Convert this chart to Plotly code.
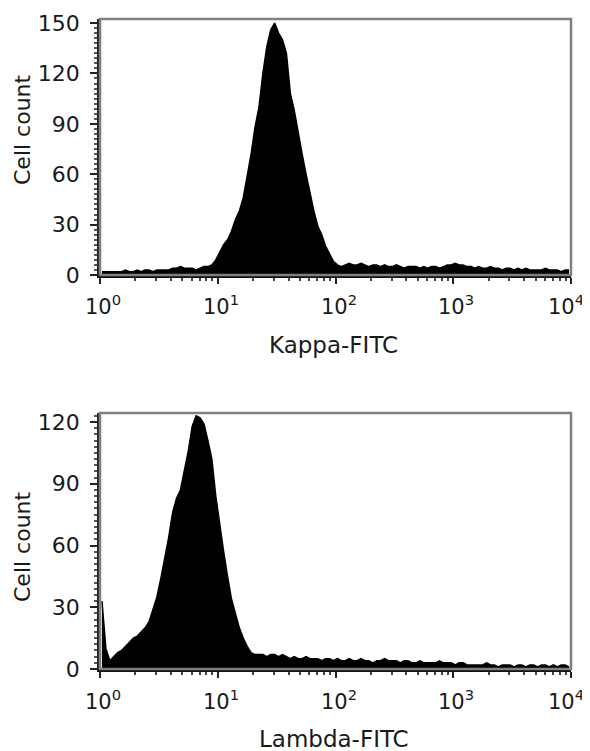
import numpy as np
import plotly.graph_objects as go

# 30 channels per decade over 4 decades (log10 bin edges 0..4)
n_bins = 120
log_edges = np.linspace(0, 4, n_bins + 1)
channel_centers = 10 ** ((log_edges[:-1] + log_edges[1:]) / 2)

kappa_counts = [
    2, 2, 2, 2, 2, 2, 3, 2, 2, 3,
    2, 3, 3, 2, 3, 3, 3, 3, 4, 4,
    5, 4, 4, 4, 3, 4, 5, 5, 6, 9,
    14, 18, 21, 26, 33, 38, 46, 58, 72, 88,
    100, 120, 136, 146, 150, 144, 140, 132, 108, 98,
    84, 72, 60, 48, 38, 29, 24, 17, 12, 8,
    6, 5, 6, 7, 6, 6, 7, 6, 5, 6,
    6, 5, 6, 5, 5, 6, 5, 4, 5, 5,
    5, 4, 5, 4, 5, 5, 4, 5, 6, 6,
    7, 6, 6, 5, 5, 4, 5, 4, 4, 5,
    4, 4, 3, 4, 4, 3, 4, 3, 4, 3,
    3, 3, 3, 4, 3, 3, 3, 2, 3, 3,
]

lambda_counts = [
    33, 10, 4, 6, 8, 9, 11, 13, 15, 16,
    18, 20, 23, 29, 35, 44, 54, 64, 76, 83,
    87, 96, 106, 118, 123, 122, 119, 111, 102, 84,
    70, 57, 45, 34, 27, 20, 15, 11, 8, 7,
    7, 7, 6, 7, 7, 6, 7, 6, 5, 6,
    5, 5, 6, 5, 5, 5, 4, 5, 5, 4,
    5, 4, 4, 5, 4, 4, 5, 4, 4, 3,
    4, 4, 5, 4, 4, 4, 3, 4, 4, 3,
    3, 4, 3, 3, 3, 3, 4, 3, 3, 3,
    2, 3, 3, 2, 2, 2, 2, 2, 3, 2,
    2, 1, 2, 2, 2, 1, 2, 2, 1, 2,
    2, 1, 2, 2, 1, 2, 1, 2, 2, 1,
]

x_tick_vals = [1, 10, 100, 1000, 10000]
x_tick_text = ["10<sup>0</sup>", "10<sup>1</sup>", "10<sup>2</sup>",
               "10<sup>3</sup>", "10<sup>4</sup>"]
kappa_y_ticks = [0, 30, 60, 90, 120, 150]
lambda_y_ticks = [0, 30, 60, 90, 120]

# the page body has an 8px margin, so the figure is drawn 8px in from the window edge
OFF = 8
W, H = 590, 751
FONT = "DejaVu Sans"
TXT = "#1a1a1a"
FS = 22
FS_X = 21
FS_T = 23

def fx(p):
    return (p - OFF) / W

def fy(p):
    return (H - (p - OFF)) / H

fig = go.Figure()
fig.add_trace(go.Scatter(
    x=channel_centers, y=kappa_counts, mode="lines",
    line=dict(color="black", width=1.5), fill="tozeroy", fillcolor="black",
    xaxis="x", yaxis="y", showlegend=False, hoverinfo="skip"))
fig.add_trace(go.Scatter(
    x=channel_centers, y=lambda_counts, mode="lines",
    line=dict(color="black", width=1.5), fill="tozeroy", fillcolor="black",
    xaxis="x2", yaxis="y2", showlegend=False, hoverinfo="skip"))

xcommon = dict(
    type="log", range=[0, 4], tickvals=x_tick_vals, showticklabels=False,
    ticks="outside", ticklen=6, tickwidth=2, tickcolor="#222", automargin=False,
    showline=True, linecolor="#111", linewidth=2.5, showgrid=False, zeroline=False,
    minor=dict(ticks="outside", ticklen=3, tickwidth=1.5, tickcolor="#444", dtick="D1", showgrid=False),
)
ycommon = dict(
    ticks="outside", ticklen=7, tickwidth=2, tickcolor="#222", automargin=False,
    showline=True, linecolor="#222", linewidth=2.5, showgrid=False, zeroline=False,
    tickfont=dict(family=FONT, size=FS, color=TXT),
    minor=dict(ticks="outside", ticklen=3, tickwidth=1.5, tickcolor="#555", dtick=3, showgrid=False),
    ticklabelstandoff=6,
)

def label(text, x, y, size, angle=0):
    return dict(text=text, x=fx(x), y=fy(y), xref="paper", yref="paper",
                xanchor="center", yanchor="middle", textangle=angle,
                showarrow=False, font=dict(family=FONT, size=size, color=TXT))

annotations = [
    label("Cell count", 22, 130, FS, -90),
    label("Cell count", 22, 547, FS, -90),
    label("Kappa-FITC", 334, 345, FS_T),
    label("Lambda-FITC", 334, 739, FS_T),
]
# decade tick labels (the last one is nudged inward as in the original)
for xref, ypix in (("x", 305), ("x2", 700)):
    for i, (v, t) in enumerate(zip(x_tick_vals, x_tick_text)):
        annotations.append(dict(
            text=t, x=np.log10(v), y=fy(ypix), xref=xref, yref="paper",
            xanchor="center", yanchor="middle", showarrow=False,
            xshift=(-5 if i == len(x_tick_vals) - 1 else 3),
            font=dict(family=FONT, size=FS_X, color=TXT)))

xd = [fx(100), fx(571)]
fig.update_layout(
    width=W, height=H, margin=dict(l=0, r=0, t=0, b=0, autoexpand=False),
    paper_bgcolor="white", plot_bgcolor="white",
    xaxis=dict(domain=xd, anchor="y", **xcommon),
    yaxis=dict(domain=[fy(275), fy(19)], anchor="x", range=[0, 152.4], tickvals=kappa_y_ticks, **ycommon),
    xaxis2=dict(domain=xd, anchor="y2", **xcommon),
    yaxis2=dict(domain=[fy(669), fy(413)], anchor="x2", range=[0, 124.4], tickvals=lambda_y_ticks, **ycommon),
    shapes=[
        dict(type="rect", xref="x domain", yref="y domain", x0=0, x1=1, y0=0, y1=1,
             line=dict(color="#808080", width=2.5), layer="above"),
        dict(type="rect", xref="x2 domain", yref="y2 domain", x0=0, x1=1, y0=0, y1=1,
             line=dict(color="#808080", width=2.5), layer="above"),
    ],
    annotations=annotations,
)

fig.write_html("out.html")
